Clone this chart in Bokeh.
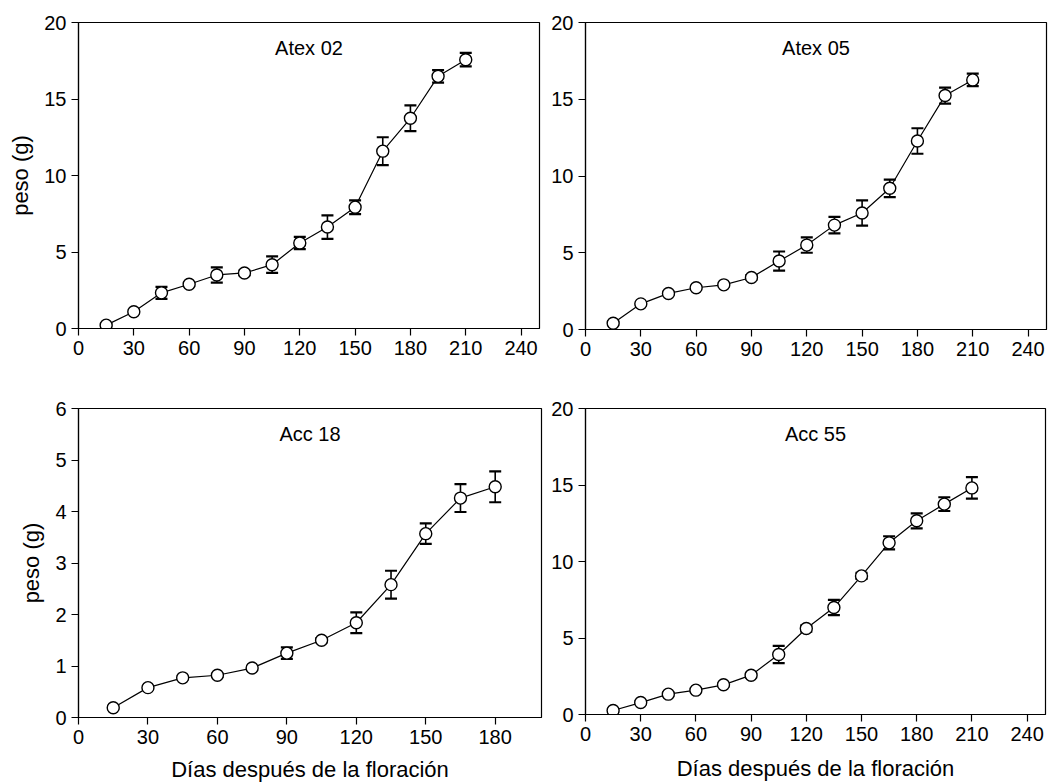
from bokeh.plotting import figure
from bokeh.models import ColumnDataSource, Whisker, TeeHead, FixedTicker, Range1d
from bokeh.layouts import column, row
from bokeh.embed import file_html
from bokeh.resources import INLINE
from bokeh.core.properties import value

# ---------------- data ----------------
days_long = [15, 30, 45, 60, 75, 90, 105, 120, 135, 150, 165, 180, 195, 210]
days_short = [15, 30, 45, 60, 75, 90, 105, 120, 135, 150, 165, 180]

atex02_y = [0.22, 1.09, 2.33, 2.89, 3.50, 3.63, 4.17, 5.59, 6.63, 7.93, 11.59, 13.74, 16.48, 17.57]
atex02_err = [0.10, 0.10, 0.39, 0.10, 0.50, 0.15, 0.54, 0.40, 0.77, 0.45, 0.91, 0.84, 0.41, 0.44]

atex05_y = [0.41, 1.67, 2.35, 2.72, 2.91, 3.39, 4.46, 5.50, 6.80, 7.59, 9.20, 12.28, 15.24, 16.26]
atex05_err = [0.10, 0.10, 0.10, 0.10, 0.10, 0.15, 0.62, 0.50, 0.54, 0.82, 0.57, 0.83, 0.52, 0.41]

acc18_y = [0.19, 0.58, 0.77, 0.82, 0.96, 1.25, 1.50, 1.84, 2.58, 3.57, 4.26, 4.48]
acc18_err = [0.03, 0.03, 0.03, 0.03, 0.03, 0.11, 0.04, 0.20, 0.27, 0.20, 0.27, 0.30]

acc55_y = [0.26, 0.78, 1.33, 1.59, 1.94, 2.57, 3.92, 5.62, 6.99, 9.06, 11.22, 12.66, 13.75, 14.81]
acc55_err = [0.10, 0.10, 0.10, 0.10, 0.10, 0.15, 0.56, 0.20, 0.50, 0.20, 0.43, 0.49, 0.45, 0.70]

x_ticks_long = [0, 30, 60, 90, 120, 150, 180, 210, 240]
x_ticks_short = [0, 30, 60, 90, 120, 150, 180]
y_ticks_20 = [0, 5, 10, 15, 20]
y_ticks_6 = [0, 1, 2, 3, 4, 5, 6]

titles = ["Atex 02", "Atex 05", "Acc 18", "Acc 55"]
y_label = "peso (g)"
x_label = "Días después de la floración"

FONT = "Liberation Sans"


def panel(x, y, err, title, xmax, xticks, ymax, yticks, fw, fh, bl, br, bt, bb,
          ylab=None, xlab=None, ylab_standoff=8, xlab_standoff=10, title_frac=0.917):
    p = figure(frame_width=fw, frame_height=fh,
               min_border_left=bl, min_border_right=br,
               min_border_top=bt, min_border_bottom=bb,
               x_range=Range1d(0, xmax), y_range=Range1d(0, ymax),
               output_backend="svg", toolbar_location=None,
               background_fill_color="white", border_fill_color="white")
    p.outline_line_color = "black"
    p.outline_line_width = 1.2
    p.xgrid.visible = False
    p.ygrid.visible = False

    for ax, ticks in ((p.xaxis[0], xticks), (p.yaxis[0], yticks)):
        ax.ticker = FixedTicker(ticks=ticks)
        ax.minor_tick_line_color = None
        ax.major_tick_in = 0
        ax.major_tick_out = 7
        ax.major_tick_line_width = 1.2
        ax.axis_line_width = 1.2
        ax.axis_line_color = "black"
        ax.major_tick_line_color = "black"
        ax.major_label_text_font = FONT
        ax.major_label_text_font_size = "20px"
        ax.major_label_text_color = "black"
        ax.major_label_standoff = 5
        ax.axis_label_text_font = FONT
        ax.axis_label_text_font_size = "22px"
        ax.axis_label_text_font_style = "normal"
        ax.axis_label_text_color = "black"
    if ylab:
        p.yaxis.axis_label = ylab
        p.yaxis.axis_label_standoff = ylab_standoff
    if xlab:
        p.xaxis.axis_label = xlab
        p.xaxis.axis_label_standoff = xlab_standoff

    src = ColumnDataSource(dict(
        x=x, y=y,
        upper=[a + b for a, b in zip(y, err)],
        lower=[a - b for a, b in zip(y, err)],
    ))
    w = Whisker(base="x", upper="upper", lower="lower", source=src,
                dimension="height", line_color="black", line_width=1.6,
                upper_head=TeeHead(size=12, line_width=2.2, line_color="black"),
                lower_head=TeeHead(size=12, line_width=2.2, line_color="black"),
                level="underlay")
    p.add_layout(w)
    p.line("x", "y", source=src, line_color="black", line_width=1.2)
    p.scatter("x", "y", source=src, marker="circle", size=12,
              fill_color="white", line_color="black", line_width=1.4)

    tsrc = ColumnDataSource(dict(x=[xmax / 2], y=[ymax * title_frac], t=[title]))
    p.text("x", "y", text="t", source=tsrc, text_align="center",
           text_baseline="middle", text_font=value(FONT),
           text_font_size="20px", text_color="black")
    return p


p1 = panel(days_long, atex02_y, atex02_err, titles[0], 250, x_ticks_long, 20, y_ticks_20,
           461, 306, 78, 9, 22, 42, ylab=y_label, ylab_standoff=8)
p2 = panel(days_long, atex05_y, atex05_err, titles[1], 250, x_ticks_long, 20, y_ticks_20,
           461, 307, 35, 4, 19, 44)
p3 = panel(days_short, acc18_y, acc18_err, titles[2], 200, x_ticks_short, 6, y_ticks_6,
           463, 309, 78, 7, 38, 66, ylab=y_label, xlab=x_label, ylab_standoff=8,
           xlab_standoff=10, title_frac=0.918)
p4 = panel(days_long, acc55_y, acc55_err, titles[3], 250, x_ticks_long, 20, y_ticks_20,
           460, 306, 36, 4, 37, 70, xlab=x_label, xlab_standoff=12)

layout = column(row(p1, p2, spacing=0), row(p3, p4, spacing=0), spacing=0)

with open("out.html", "w") as f:
    f.write(file_html(layout, INLINE))
